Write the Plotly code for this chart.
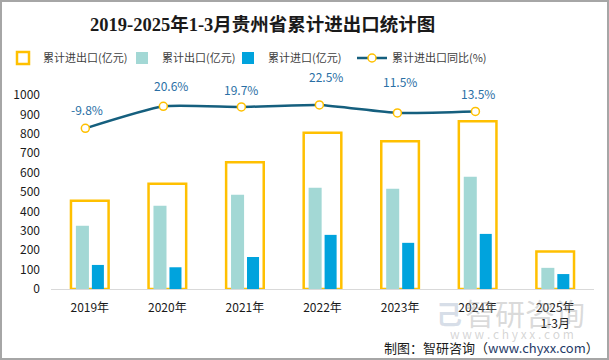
import plotly.graph_objects as go

# ---------------- data ----------------
categories = ["2019年", "2020年", "2021年", "2022年", "2023年", "2024年", "2025年<br>1-3月"]
total_trade = [455, 543, 653, 805, 761, 865, 193]      # 累计进出口(亿元)
exports = [326, 429, 486, 522, 517, 579, 109]          # 累计出口(亿元)
imports = [124, 112, 165, 279, 238, 284, 77]           # 累计进口(亿元)
yoy_categories = ["2019年", "2020年", "2021年", "2022年", "2023年", "2024年"]
yoy_growth = [-9.8, 20.6, 19.7, 22.5, 11.5, 13.5]      # 累计进出口同比(%)
yoy_labels = ["-9.8%", "20.6%", "19.7%", "22.5%", "11.5%", "13.5%"]
y_ticks = [0, 100, 200, 300, 400, 500, 600, 700, 800, 900, 1000]

# ---------------- style / layout ----------------
W, H = 609, 360
ML, MR, MT, MB = 51, 15, 95, 71
PW, PH = W - ML - MR, H - MT - MB

def px_x(px):
    return (px - ML) / PW

def px_y(py):
    return (H - MB - py) / PH

YELLOW = "#FFC000"
TEAL = "#A3D8D5"
BLUE = "#00A3DD"
LINE = "#155F7E"
LABEL = "#2A6FA5"
TXT = "#404040"
FONT = "Noto Sans CJK SC, Noto Sans, sans-serif"

label_xshift = [2, 8, 0, 7, 3, 3]
label_yshift = [19, 21, 17, 28, 31, 18]

fig = go.Figure()

fig.add_trace(go.Bar(
    x=categories, y=total_trade, name="累计进出口(亿元)",
    width=0.485, offset=-0.2425,
    marker=dict(color="rgba(0,0,0,0)", line=dict(color=YELLOW, width=2.5)),
    legend="legend", hoverinfo="y",
))
fig.add_trace(go.Bar(
    x=categories, y=exports, name="累计出口(亿元)",
    width=0.168, offset=-0.179,
    marker=dict(color=TEAL, line=dict(width=0)),
    legend="legend2",
))
fig.add_trace(go.Bar(
    x=categories, y=imports, name="累计进口(亿元)",
    width=0.155, offset=0.027,
    marker=dict(color=BLUE, line=dict(width=0)),
    legend="legend3",
))
fig.add_trace(go.Scatter(
    x=yoy_categories, y=yoy_growth, name="累计进出口同比(%)",
    xaxis="x2", yaxis="y2", mode="lines+markers",
    line=dict(color=LINE, width=2.5, shape="spline", smoothing=0.5),
    marker=dict(symbol="circle", size=8, color="white", line=dict(color=YELLOW, width=1.5)),
    legend="legend4",
))

annotations = []
for c, v, t, dx, dy in zip(yoy_categories, yoy_growth, yoy_labels, label_xshift, label_yshift):
    annotations.append(dict(
        x=c, y=v, xref="x2", yref="y2", text=t, showarrow=False,
        xshift=dx, yshift=dy, yanchor="middle", xanchor="center",
        font=dict(family=FONT, size=12, color=LABEL),
    ))

# title
annotations.append(dict(
    x=px_x(262), y=px_y(25), xref="paper", yref="paper",
    text="<b>2019-2025年1-3月贵州省累计进出口统计图</b>", showarrow=False,
    xanchor="center", yanchor="middle",
    font=dict(family="Liberation Serif, Noto Sans CJK SC, serif", size=18.5, color="#1a1a1a"),
))
# watermark
annotations.append(dict(
    x=px_x(525), y=px_y(312), xref="paper", yref="paper",
    text="智研咨询", showarrow=False, xanchor="center", yanchor="middle",
    font=dict(family=FONT, size=30, color="rgba(150,150,150,0.35)"),
))
annotations.append(dict(
    x=px_x(449), y=px_y(312), xref="paper", yref="paper",
    text="<b>己</b>", showarrow=False, xanchor="center", yanchor="middle",
    font=dict(family=FONT, size=26, color="rgba(140,160,190,0.35)"),
))
annotations.append(dict(
    x=px_x(512), y=px_y(333), xref="paper", yref="paper",
    text="w w w . c h y x x . c o m", showarrow=False, xanchor="center", yanchor="middle",
    font=dict(family=FONT, size=12, color="rgba(150,150,150,0.4)"),
))
# source
annotations.append(dict(
    x=px_x(601), y=px_y(347), xref="paper", yref="paper",
    text="制图：智研咨询（<span style='color:#1F3A68'>www.chyxx.com</span>）", showarrow=False,
    xanchor="right", yanchor="middle",
    font=dict(family=FONT, size=13, color="#1a1a1a"),
))

def legend_at(px_left):
    return dict(
        orientation="h", x=px_x(px_left), y=px_y(58), xanchor="left", yanchor="middle",
        font=dict(family=FONT, size=11, color=TXT), bgcolor="rgba(0,0,0,0)",
        itemwidth=30, tracegroupgap=0,
    )

fig.update_layout(
    width=W, height=H,
    margin=dict(l=ML, r=MR, t=MT, b=MB, pad=0, autoexpand=False),
    paper_bgcolor="white", plot_bgcolor="white",
    barmode="overlay", showlegend=True,
    font=dict(family=FONT, size=12, color=TXT),
    legend=legend_at(3),
    legend2=legend_at(122),
    legend3=legend_at(228),
    legend4=legend_at(352),
    xaxis=dict(
        type="category", categoryorder="array", categoryarray=categories,
        range=[-0.5, 6.5], showline=True, linecolor="#D9D9D9", linewidth=1,
        showgrid=False, ticks="", ticklabelstandoff=8, automargin=False,
        tickfont=dict(family=FONT, size=12, color="#1a1a1a"), fixedrange=True,
    ),
    xaxis2=dict(
        type="category", categoryorder="array", categoryarray=yoy_categories,
        overlaying="x", range=[-0.44, 6.52], visible=False, fixedrange=True,
    ),
    yaxis=dict(
        range=[0, 1000], tickvals=y_ticks, showgrid=False, showline=False,
        zeroline=False, ticks="", ticklabelstandoff=10, automargin=False,
        tickfont=dict(family=FONT, size=12, color="#1a1a1a"), fixedrange=True,
    ),
    yaxis2=dict(
        overlaying="y", side="right", range=[-231.4, 36.2], visible=False,
        fixedrange=True,
    ),
    annotations=annotations,
    shapes=[dict(
        type="rect", xref="paper", yref="paper",
        x0=px_x(1), x1=px_x(W - 1), y0=px_y(H - 1), y1=px_y(1),
        line=dict(color="#A6A6A6", width=2), fillcolor="rgba(0,0,0,0)", layer="above",
    )],
)

fig.write_html(
    "out.html",
    config={"displayModeBar": False},
    post_script="document.body.style.margin='0';document.body.style.overflow='hidden';",
)
